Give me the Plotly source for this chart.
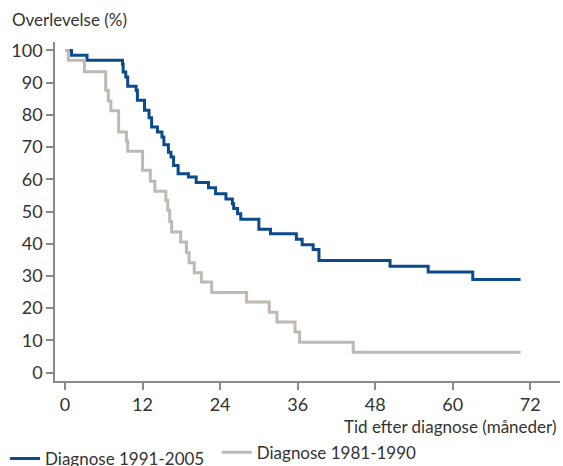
import plotly.graph_objects as go

# Kaplan-Meier style survival curves (months, % surviving)
t_new = [0, 1.0, 3.4, 8.9, 9.0, 9.4, 9.7, 11.0, 11.2, 12.3, 13.0, 13.4, 14.3, 15.0, 15.3,
         16.0, 16.4, 16.8, 17.5, 19.1, 20.3, 22.2, 23.3, 24.9, 25.9, 26.1, 26.7, 27.2,
         30.0, 31.8, 35.8, 36.7, 38.4, 39.3, 50.3, 56.2, 63.1, 70.5]
s_new = [100, 98.5, 96.9, 95.7, 93.3, 91.7, 88.9, 87.6, 84.5, 81.4, 79.1, 76.2, 74.7, 73.1, 70.7,
         68.4, 66.9, 64.3, 61.7, 60.7, 59.0, 57.4, 55.5, 53.9, 52.4, 50.9, 49.3, 47.6,
         44.5, 43.1, 41.4, 39.7, 38.2, 34.8, 33.0, 31.2, 28.9, 28.9]

t_old = [0, 0.5, 3.0, 6.3, 6.7, 7.1, 8.3, 9.5, 9.7, 12.0, 13.2, 13.9, 15.6, 15.9, 16.2, 16.5,
         17.9, 18.8, 19.2, 20.0, 21.1, 22.7, 28.1, 31.6, 32.8, 35.6, 36.3, 44.6, 70.5]
s_old = [100, 96.9, 93.4, 87.6, 84.3, 81.3, 74.7, 71.9, 68.7, 62.8, 59.4, 56.3, 53.5, 50.4, 46.9, 43.6,
         40.5, 37.2, 34.1, 31.0, 28.1, 24.9, 21.9, 18.7, 15.7, 12.6, 9.4, 6.3, 6.3]

x_ticks = [0, 12, 24, 36, 48, 60, 72]
y_ticks = [0, 10, 20, 30, 40, 50, 60, 70, 80, 90, 100]

name_new = "Diagnose 1991-2005"
name_old = "Diagnose 1981-1990"

FONT = "Lato"
FS = 18
TXT = "#333333"
AX = "#8a8a8a"

fig = go.Figure()
fig.add_trace(go.Scatter(x=t_new, y=s_new, mode="lines", line_shape="hv",
                         line=dict(color="#0b4a8b", width=3), name=name_new, legend="legend"))
fig.add_trace(go.Scatter(x=t_old, y=s_old, mode="lines", line_shape="hv",
                         line=dict(color="#c0b9b2", width=3), name=name_old, legend="legend2"))

leg_common = dict(orientation="h", xref="container", yref="container",
                  xanchor="left", yanchor="top",
                  font=dict(family=FONT, size=FS - 1, color=TXT),
                  itemwidth=30, bgcolor="rgba(0,0,0,0)")

fig.update_layout(
    width=563, height=466,
    margin=dict(l=55, r=3, t=42, b=85, autoexpand=False),
    paper_bgcolor="white", plot_bgcolor="white",
    font=dict(family=FONT, size=FS, color=TXT),
    showlegend=True,
    legend=dict(x=0.009, y=0.054, **leg_common),
    legend2=dict(x=0.385, y=0.067, **leg_common),
    xaxis=dict(range=[-1.55, 76.6], tickvals=x_ticks, ticktext=[str(v) for v in x_ticks],
               showgrid=False, zeroline=False, showline=True, linecolor=AX, linewidth=1.5,
               ticks="outside", ticklen=7, tickcolor=AX, tickwidth=1.5,
               tickfont=dict(family=FONT, size=FS, color=TXT)),
    yaxis=dict(range=[-2.6, 102.6], tickvals=y_ticks, ticktext=[str(v) for v in y_ticks],
               showgrid=False, zeroline=False, showline=True, linecolor=AX, linewidth=1.5,
               ticks="outside", ticklen=7, tickcolor=AX, tickwidth=1.5,
               tickfont=dict(family=FONT, size=FS, color=TXT)),
    annotations=[
        dict(text="Overlevelse (%)", xref="paper", yref="paper", x=-0.089, y=1.0,
             xanchor="left", yanchor="bottom", yshift=10, showarrow=False,
             font=dict(family=FONT, size=FS - 1, color=TXT)),
        dict(text="Tid efter diagnose (måneder)", xref="paper", yref="paper", x=1.0, y=0,
             xanchor="right", yanchor="top", xshift=-2, yshift=-33, showarrow=False,
             font=dict(family=FONT, size=FS - 1, color=TXT)),
    ],
)

fig.write_html("out.html", config={"displayModeBar": False},
               post_script="document.body.style.margin='0';document.body.style.padding='0';")
